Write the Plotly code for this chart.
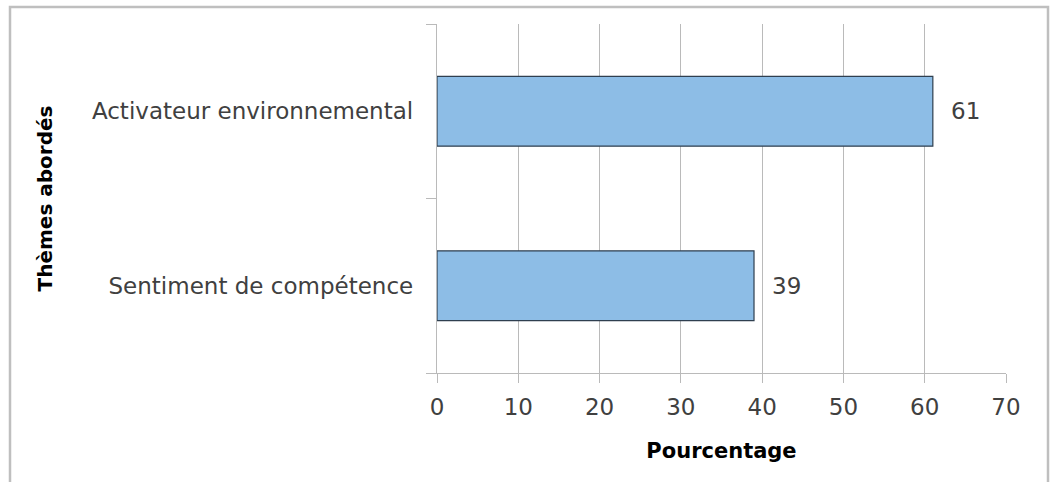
import plotly.graph_objects as go

categories = ["Sentiment de compétence", "Activateur environnemental"]
values = [39, 61]
x_ticks = [0, 10, 20, 30, 40, 50, 60, 70]
x_title = "Pourcentage"
y_title = "Thèmes abordés"

FONT = "DejaVu Sans"
W, H = 1050, 482
L, R, T, B = 437, 44, 24, 109

fig = go.Figure()
fig.add_trace(go.Bar(
    x=values, y=categories, orientation="h",
    marker=dict(color="#8DBDE6", line=dict(color="#2F3F4F", width=1.2)),
    width=0.4,
    hoverinfo="skip",
))

for v, c in zip(values, categories):
    fig.add_annotation(x=v, y=c, text=str(v), showarrow=False,
                       xanchor="left", xshift=16,
                       font=dict(family=FONT, size=23, color="#404040"))

pw = W - L - R
ph = H - T - B
fig.add_shape(type="rect", xref="paper", yref="paper",
              x0=(10 - L) / pw, x1=(1048 - L) / pw,
              y0=-(500 - (H - B)) / ph, y1=((H - B) - 7) / ph,
              line=dict(color="#BFBFBF", width=2.5), fillcolor="rgba(0,0,0,0)",
              layer="below")

fig.update_layout(
    width=W, height=H,
    margin=dict(l=L, r=R, t=T, b=B, autoexpand=False),
    paper_bgcolor="white", plot_bgcolor="white",
    showlegend=False,
    font=dict(family=FONT, color="#404040"),
    xaxis=dict(
        range=[0, 70], tickvals=x_ticks,
        showgrid=True, gridcolor="#BABABA", gridwidth=1.4,
        showline=True, linecolor="#BABABA", linewidth=1.4,
        ticks="outside", ticklen=9, tickcolor="#BABABA", tickwidth=1.4,
        ticklabelstandoff=4,
        tickfont=dict(family=FONT, size=23, color="#404040"),
        zeroline=False,
        title=dict(text="<b>" + x_title + "</b>", standoff=24,
                   font=dict(family=FONT, size=21, color="#000000")),
        automargin=False,
    ),
    yaxis=dict(
        type="category", categoryorder="array", categoryarray=categories,
        range=[-0.5, 1.5],
        tickson="boundaries",
        showline=True, linecolor="#BABABA", linewidth=1.4,
        ticks="outside", ticklen=10, tickcolor="#BABABA", tickwidth=1.4,
        ticklabelstandoff=18,
        tickfont=dict(family=FONT, size=23, color="#404040"),
        showgrid=False,
        title=dict(text="<b>" + y_title + "</b>", standoff=33,
                   font=dict(family=FONT, size=20, color="#000000")),
        automargin=False,
    ),
)

fig.write_html("out.html", config={"displayModeBar": False},
               post_script="document.body.style.margin='0';")
